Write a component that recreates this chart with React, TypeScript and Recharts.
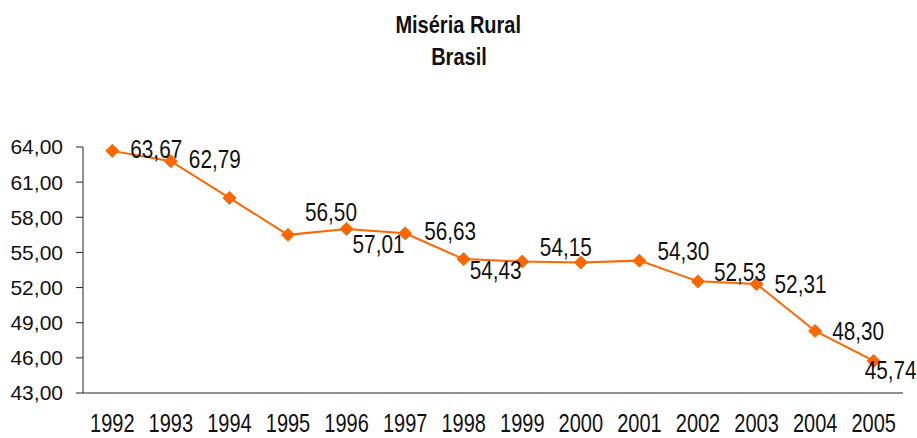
import React from 'react';
import { LineChart, Line, XAxis, YAxis } from 'recharts';

const years = ['1992', '1993', '1994', '1995', '1996', '1997', '1998', '1999', '2000', '2001', '2002', '2003', '2004', '2005'];
const values = [63.67, 62.79, 59.65, 56.5, 57.01, 56.63, 54.43, 54.22, 54.15, 54.3, 52.53, 52.31, 48.3, 45.74];
const labeled = [true, true, false, true, true, true, true, false, true, true, true, true, true, true];
const yTicks = [43, 46, 49, 52, 55, 58, 61, 64];

// label placement relative to each point: [dx of left edge, dy of text center]
const labelOffsets: [number, number][] = [
  [18, -2], [18, -2], [0, 0], [17, -23], [6, 15], [19, -2], [6, 11],
  [0, 0], [-41, -15], [18, -10], [16, -9], [18, 0], [17, 0], [-9, 9],
];

const data = years.map((y, i) => ({ idx: i, year: y, value: values[i] }));
const boundaryTicks = years.map((_, i) => i - 0.5).concat([years.length - 0.5]);
const centerTicks = years.map((_, i) => i);

const FONT = "'Liberation Sans', Arial, sans-serif";
const ORANGE = '#FF6600';
const fmt = (v: number) => v.toFixed(2).replace('.', ',');

const Diamond = (props: any) => {
  const { cx, cy } = props;
  if (cx == null || cy == null) return null;
  const r = 6.5;
  return (
    <polygon
      points={`${cx},${cy - r} ${cx + r},${cy} ${cx},${cy + r} ${cx - r},${cy}`}
      fill={ORANGE}
      stroke={ORANGE}
    />
  );
};

const DataLabel = (props: any) => {
  const { x, y, index, value } = props;
  if (!labeled[index]) return null;
  const [dx, dy] = labelOffsets[index];
  return (
    <text
      transform={`translate(${x + dx},${y + dy + 9}) scale(0.83,1)`}
      fontSize={25}
      fontFamily={FONT}
      fill="#111"
      textAnchor="start"
    >
      {fmt(value)}
    </text>
  );
};

const YearTick = (props: any) => {
  const { x, y, payload } = props;
  return (
    <text
      transform={`translate(${x},${y}) scale(0.8,1)`}
      fontSize={25}
      fontFamily={FONT}
      fill="#111"
      textAnchor="middle"
      dy="0.71em"
    >
      {years[payload.value]}
    </text>
  );
};

export default function App() {
  return (
    <div style={{ position: 'absolute', left: 0, top: 0, width: 917, height: 438, background: '#fff' }}>
      <div style={{ position: 'absolute', left: 0, top: 9, width: 917, textAlign: 'center', fontFamily: FONT, fontWeight: 'bold', fontSize: 23, lineHeight: '32px', color: '#111' }}>
        <div><span style={{ display: 'inline-block', transform: 'scaleX(0.87)' }}>Miséria Rural</span></div>
        <div><span style={{ display: 'inline-block', transform: 'scaleX(0.87)' }}>Brasil</span></div>
      </div>
      <LineChart width={917} height={438} data={data} margin={{ top: 147, right: 14, bottom: 0, left: 0 }}>
        <XAxis
          xAxisId="grid"
          dataKey="idx"
          type="number"
          domain={[-0.5, years.length - 0.5]}
          ticks={boundaryTicks}
          tick={false}
          tickSize={7}
          height={7}
          stroke="#222"
          allowDataOverflow
        />
        <XAxis
          xAxisId="labels"
          dataKey="idx"
          type="number"
          domain={[-0.5, years.length - 0.5]}
          ticks={centerTicks}
          axisLine={false}
          tickLine={false}
          tickSize={0}
          tickMargin={14}
          height={38}
          interval={0}
          tick={<YearTick />}
        />
        <YAxis
          domain={[43, 64]}
          ticks={yTicks}
          tickFormatter={fmt}
          width={83}
          tickSize={7}
          tickMargin={13}
          stroke="#222"
          interval={0}
          tick={{ fontSize: 21, fontFamily: FONT, fill: '#111' }}
        />
        <Line
          xAxisId="grid"
          dataKey="value"
          stroke={ORANGE}
          strokeWidth={2}
          dot={<Diamond />}
          activeDot={false}
          isAnimationActive={false}
          label={<DataLabel />}
        />
      </LineChart>
    </div>
  );
}
